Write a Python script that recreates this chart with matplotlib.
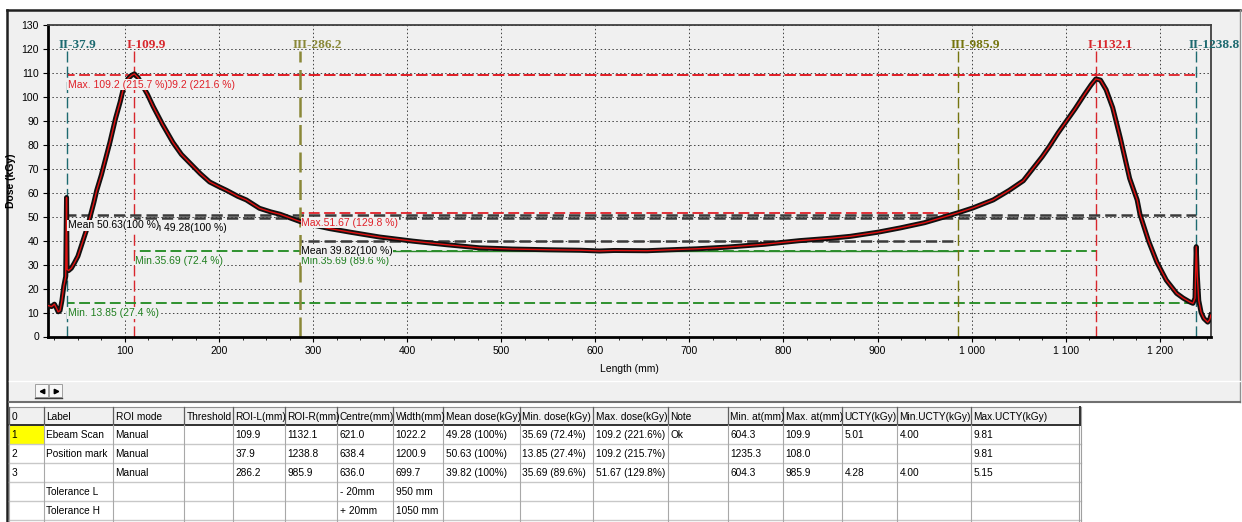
import matplotlib.pyplot as plt
from matplotlib.patches import Rectangle

# measured dose profile along the scan
length_mm = [17.5, 22, 25, 27, 29, 31, 33, 35, 37, 37.9, 38.5, 40, 43, 46, 50, 55, 60, 63, 67, 70,
             75, 80, 84, 90, 95, 98, 103, 107, 110, 114, 119, 124, 130, 140, 151, 160, 170, 180,
             190, 200, 208, 220, 229, 243, 255, 265, 272, 286, 300, 318, 340, 371, 406, 442,
             477, 512, 550, 584, 604.3, 620, 655, 680, 708, 740, 780, 817, 850, 871, 900, 924,
             950, 970, 985.9, 1001, 1023, 1040, 1055, 1062, 1075, 1083, 1092, 1101, 1110, 1120,
             1127, 1132.1, 1137, 1143, 1150, 1158, 1168, 1176, 1179, 1188, 1197, 1207, 1218,
             1225, 1232, 1235.3, 1237.5, 1238.8, 1240, 1241.5, 1244, 1247, 1251, 1253, 1254.5]
dose_kgy = [13.0, 12.5, 13.5, 12.0, 10.3, 10.8, 15.0, 21.0, 25.0, 58.0, 28.0, 27.5, 28.5, 30.5,
            33.5, 39.5, 45.5, 50.0, 56.0, 61.0, 67.5, 75.0, 81.0, 91.0, 98.0, 103.0, 107.5,
            109.0, 109.6, 108.0, 104.5, 101.0, 96.0, 88.5, 81.0, 76.0, 72.0, 68.0, 64.5, 62.5,
            61.0, 58.5, 57.0, 53.5, 52.0, 51.0, 50.0, 48.0, 46.5, 45.0, 43.5, 41.5, 39.8, 38.3,
            37.0, 36.5, 36.2, 36.0, 35.69, 35.9, 35.8, 36.2, 36.6, 37.3, 38.5, 40.0, 41.0, 41.8,
            43.5, 45.3, 47.5, 49.8, 51.67, 53.6, 57.0, 61.0, 65.0, 68.5, 75.0, 79.5, 85.0, 90.0,
            95.0, 101.0, 105.0, 107.5, 107.0, 103.0, 95.5, 83.0, 66.0, 57.0, 51.0, 40.0, 31.0,
            23.5, 18.0, 16.0, 14.4, 13.85, 16.0, 37.5, 25.0, 15.0, 10.0, 7.5, 6.0, 7.0, 9.0]

# regions of interest: I = Ebeam Scan, II = Position mark, III = unnamed
roi_names = ["I", "II", "III"]
roi_left = [109.9, 37.9, 286.2]
roi_right = [1132.1, 1238.8, 985.9]
mean_dose = [49.28, 50.63, 39.82]
min_dose = [35.69, 13.85, 35.69]
max_dose = [109.2, 109.2, 51.67]
mean_text = ["Mean 49.28(100 %)", "Mean 50.63(100 %)", "Mean 39.82(100 %)"]
min_text = ["Min.35.69 (72.4 %)", "Min. 13.85 (27.4 %)", "Min.35.69 (89.6 %)"]
max_text = ["Max. 109.2 (221.6 %)", "Max. 109.2 (215.7 %)", "Max.51.67 (129.8 %)"]
roi_colors = ["#d8262c", "#1d6a70", "#8a8838"]
roi_colors_right = ["#d8262c", "#1d6a70", "#75750f"]

x_ticks = [100, 200, 300, 400, 500, 600, 700, 800, 900, 1000, 1100, 1200]
x_tick_labels = ["100", "200", "300", "400", "500", "600", "700", "800", "900",
                 "1 000", "1 100", "1 200"]
y_ticks = [0, 10, 20, 30, 40, 50, 60, 70, 80, 90, 100, 110, 120, 130]

table_header = ["0", "Label", "ROI mode", "Threshold", "ROI-L(mm)", "ROI-R(mm)", "Centre(mm)",
                "Width(mm)", "Mean dose(kGy)", "Min. dose(kGy)", "Max. dose(kGy)", "Note",
                "Min. at(mm)", "Max. at(mm)", "UCTY(kGy)", "Min.UCTY(kGy)", "Max.UCTY(kGy)"]
table_rows = [
    ["1", "Ebeam Scan", "Manual", "", "109.9", "1132.1", "621.0", "1022.2", "49.28 (100%)",
     "35.69 (72.4%)", "109.2 (221.6%)", "Ok", "604.3", "109.9", "5.01", "4.00", "9.81"],
    ["2", "Position mark", "Manual", "", "37.9", "1238.8", "638.4", "1200.9", "50.63 (100%)",
     "13.85 (27.4%)", "109.2 (215.7%)", "", "1235.3", "108.0", "", "", "9.81"],
    ["3", "", "Manual", "", "286.2", "985.9", "636.0", "699.7", "39.82 (100%)",
     "35.69 (89.6%)", "51.67 (129.8%)", "", "604.3", "985.9", "4.28", "4.00", "5.15"],
    ["", "Tolerance L", "", "", "", "", "- 20mm", "950 mm", "", "", "", "", "", "", "", "", ""],
    ["", "Tolerance H", "", "", "", "", "+ 20mm", "1050 mm", "", "", "", "", "", "", "", "", ""],
]
col_edges = [9, 44, 113, 184, 233, 285, 337, 393, 443, 520, 593, 668, 728, 783, 842, 897, 971, 1081]
row_edges = [407, 425, 444, 463, 482, 501, 520]

PANEL = "#f0f0f0"
plt.rcParams["font.family"] = ["Liberation Sans", "DejaVu Sans"]

W, H = 1242, 522
fig = plt.figure(figsize=(W / 100, H / 100), dpi=100, facecolor="white")

# window chrome drawn in pixel coordinates
bg = fig.add_axes([0, 0, 1, 1], zorder=-10)
bg.set_xlim(0, W)
bg.set_ylim(H, 0)
bg.axis("off")
bg.add_patch(Rectangle((7, 10), 1233, 392, facecolor=PANEL, edgecolor="none"))
bg.add_patch(Rectangle((9, 403), 1231, 119, facecolor="white", edgecolor="none"))
bg.plot([7, 1240], [10, 10], color="#202020", lw=1.8)
bg.plot([7, 7], [10, H], color="#202020", lw=1.8)
bg.plot([1240, 1240], [10, 402], color="#909090", lw=1)
bg.plot([9, 1240], [381, 381], color="white", lw=1)
bg.plot([9, 1240], [402, 402], color="#707070", lw=1.5)
for bx, mk in [(35, "<"), (49, ">")]:
    bg.add_patch(Rectangle((bx, 384), 13, 13, facecolor="#f7f7f7", edgecolor="#a0a0a0", lw=0.7))
    bg.plot([bx + 6.5], [390.5], marker=mk, color="black", ms=3.2)
bg.plot([35, 62], [397.5, 397.5], color="#404040", lw=1)

# results table
bg.add_patch(Rectangle((col_edges[0], row_edges[0]), col_edges[-1] - col_edges[0],
                       row_edges[1] - row_edges[0], facecolor=PANEL, edgecolor="none"))
bg.add_patch(Rectangle((col_edges[0], row_edges[1]), col_edges[1] - col_edges[0],
                       row_edges[2] - row_edges[1], facecolor="#ffff00", edgecolor="none"))
for y in row_edges[2:]:
    bg.plot([col_edges[0], col_edges[-1]], [y, y], color="#c8c8c8", lw=1)
bg.plot([col_edges[0], col_edges[-1]], [row_edges[0], row_edges[0]], color="#909090", lw=0.8)
bg.plot([col_edges[0], col_edges[-1]], [row_edges[1], row_edges[1]], color="#303030", lw=1.4)
for x in col_edges[:-1]:
    bg.plot([x, x], [row_edges[0], row_edges[1]], color="#606060", lw=0.9)
    bg.plot([x, x], [row_edges[1], H], color="#a8a8a8", lw=0.8)
bg.plot([col_edges[-1] - 2, col_edges[-1] - 2], [row_edges[0], H], color="#a0a0a0", lw=0.8)
bg.plot([col_edges[-1], col_edges[-1]], [row_edges[0], H], color="#a0a0a0", lw=0.8)
bg.plot([col_edges[-1] - 1, col_edges[-1] - 1], [row_edges[0], row_edges[1]], color="#303030", lw=1.4)
for r, row in enumerate([table_header] + table_rows):
    yc = (row_edges[r] + row_edges[r + 1]) / 2
    for c, s in enumerate(row):
        bg.text(col_edges[c] + 2.5, yc + 0.5, s, fontsize=7.3, va="center", ha="left",
                color="black")

# dose chart
X0, X1 = 18.2, 1254.5
ax_left, ax_right = 48, 1211
ax = fig.add_axes([ax_left / W, (H - 336.5) / H, (ax_right - ax_left) / W, 311.5 / H])
ax.set_facecolor(PANEL)
ax.set_xlim(X0, X1)
ax.set_ylim(0, 130)
ax.set_xticks(x_ticks)
ax.set_xticklabels(x_tick_labels)
ax.set_xticks(range(25, 1255, 25), minor=True)
ax.set_yticks(y_ticks)
ax.tick_params(axis="both", which="major", labelsize=7.5, length=3.5, width=0.8, pad=3,
               colors="black")
ax.tick_params(axis="x", which="minor", length=2, width=0.6)
ax.grid(True, which="major", color="#404040", linestyle=(0, (1.5, 2.5)), lw=0.7)
ax.set_axisbelow(True)
for side in ["left", "bottom"]:
    ax.spines[side].set_linewidth(2)
    ax.spines[side].set_color("black")
for side in ["top", "right"]:
    ax.spines[side].set_linewidth(1.3)
    ax.spines[side].set_color("#404040")
ax.set_xlabel("Length (mm)", fontsize=7.5, labelpad=6)
ax.set_ylabel("Dose (kGy)", fontsize=7.5, fontweight="bold")
ax.yaxis.set_label_coords(-0.0275, 0.5)

# dashes anchored to the axis origin so overlapping limit lines line up
pt_per_mm = (ax_right - ax_left) / (X1 - X0) * 0.72


def hdash(x_start, lw, on=6, off=2.5):
    return ((x_start - X0) * pt_per_mm / lw, (on, off))


for i, name in enumerate(roi_names):
    xs = [roi_left[i], roi_right[i]]
    ax.plot(xs, [max_dose[i]] * 2, color="#e02028", lw=1.3, ls=hdash(xs[0], 1.3), zorder=2)
    ax.plot(xs, [mean_dose[i]] * 2, color="#3a3a3a", lw=1.8, ls=hdash(xs[0], 1.8, 4.5, 2),
            zorder=2)
    if name == "III":
        ax.plot(xs, [min_dose[i]] * 2, color="#2a8a2a", lw=1.0, zorder=2)
    else:
        ax.plot(xs, [min_dose[i]] * 2, color="#1f8a1f", lw=1.3, ls=hdash(xs[0], 1.3), zorder=2)
    for x, col in [(roi_left[i], roi_colors[i]), (roi_right[i], roi_colors_right[i])]:
        lw = 1.8 if name == "III" and x == roi_left[i] else 1.0
        ax.plot([x, x], [0, 119], color=col, lw=lw, ls=(0, (8, 3)), zorder=2)
        ax.annotate(f"{name}-{x}", (x, 121.5), xytext=(-8, 0), textcoords="offset pixels",
                    color=col, fontsize=9.5, fontweight="bold",
                    family=["Liberation Serif", "DejaVu Serif"], ha="left", va="center",
                    annotation_clip=False, zorder=3)

ax.plot(length_mm, dose_kgy, color="#111111", lw=3.6, zorder=4, solid_joinstyle="round")
ax.plot(length_mm, dose_kgy, color="#e01010", lw=1.0, zorder=5)

box = dict(facecolor=PANEL, edgecolor="none", pad=0.3)
for i in range(len(roi_names)):
    for val, s, col in [(max_dose[i], max_text[i], "#e02028"),
                        (min_dose[i], min_text[i], "#1f7f1f"),
                        (mean_dose[i], mean_text[i], "black")]:
        ax.annotate(s, (roi_left[i], val), xytext=(1, -10), textcoords="offset pixels",
                    fontsize=7.5, color=col, va="center", ha="left", bbox=box, zorder=6)

fig.savefig("out.png", dpi=100, facecolor="white")
